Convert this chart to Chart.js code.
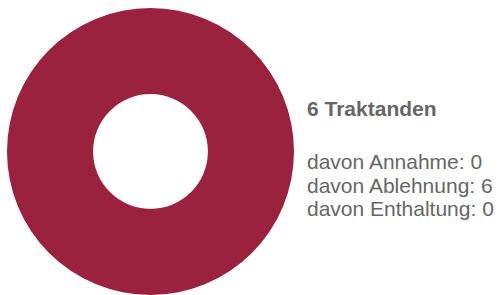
<!DOCTYPE html>
<html>
<head>
<meta charset="utf-8">
<script src="https://cdn.jsdelivr.net/npm/chart.js@4"></script>
<style>
  html, body { margin: 0; padding: 0; background: #fff; width: 501px; height: 295px; overflow: hidden; }
  #wrap { position: absolute; left: 0; top: 0; width: 301px; height: 295px; }
  #info { position: absolute; left: 307px; top: 0; font-family: "Liberation Sans", Arial, sans-serif; color: #666; white-space: nowrap; }
  #title { position: absolute; top: 98px; left: 0; font-size: 21px; line-height: 21px; font-weight: bold; }
  .line { position: absolute; left: 0; font-size: 21px; line-height: 21px; }
</style>
</head>
<body>
<div id="wrap"><canvas id="c" width="301" height="295"></canvas></div>
<div id="info">
  <div id="title"></div>
  <div id="l0" class="line" style="top:151px"></div>
  <div id="l1" class="line" style="top:175px"></div>
  <div id="l2" class="line" style="top:198px"></div>
</div>
<script>
const categories = ["Annahme", "Ablehnung", "Enthaltung"];
const values = [0, 6, 0];
const colors = ["#4f8a3c", "#9b223f", "#b0b0b0"];
const totalLabel = "Traktanden";
const prefix = "davon";

const total = values.reduce((a, b) => a + b, 0);
document.getElementById("title").textContent = total + " " + totalLabel;
categories.forEach((c, i) => {
  document.getElementById("l" + i).textContent = prefix + " " + c + ": " + values[i];
});

new Chart(document.getElementById("c"), {
  type: "doughnut",
  data: {
    labels: categories,
    datasets: [{ data: values, backgroundColor: colors, borderWidth: 0, hoverOffset: 0 }]
  },
  options: {
    responsive: false,
    animation: false,
    cutout: "40%",
    layout: { padding: { top: 8, bottom: 0, left: 7, right: 7 } },
    plugins: { legend: { display: false }, tooltip: { enabled: false } }
  }
});
</script>
</body>
</html>
